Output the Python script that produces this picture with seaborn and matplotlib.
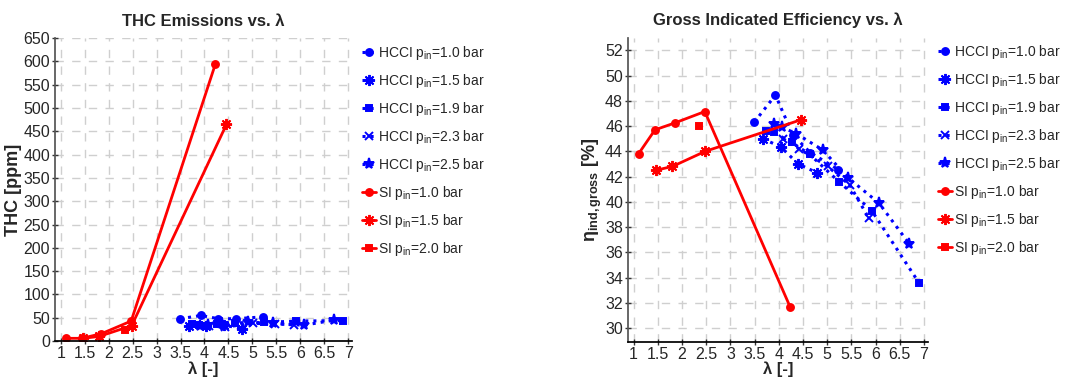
import matplotlib
matplotlib.use('Agg')
import matplotlib.pyplot as plt
import seaborn as sns
import pandas as pd
import numpy as np
from matplotlib.ticker import MultipleLocator, FormatStrFormatter

# HCCI data (lambda, THC [ppm], gross indicated efficiency [%])
hcci_10_lam = [3.49, 3.93, 4.29, 4.65, 5.23]
hcci_10_thc = [48, 55, 48, 48, 52]
hcci_10_eta = [46.3, 48.45, 45.3, 43.9, 42.55]

hcci_15_lam = [3.67, 4.04, 4.40, 4.79]
hcci_15_thc = [33, 32, 34, 27]
hcci_15_eta = [45.0, 44.35, 43.0, 42.3]

hcci_19_lam = [3.74, 3.89, 4.27, 4.64, 5.24, 5.92, 6.90]
hcci_19_thc = [36, 35, 37, 38, 40, 43, 44]
hcci_19_eta = [45.6, 45.5, 44.7, 43.75, 41.6, 39.3, 33.56]

hcci_23_lam = [4.09, 4.42, 5.01, 5.47, 5.86]
hcci_23_thc = [33, 30, 38, 37, 35]
hcci_23_eta = [45.0, 44.2, 42.8, 41.3, 38.7]

hcci_25_lam = [3.90, 4.07, 4.36, 4.91, 5.43, 6.07, 6.70]
hcci_25_thc = [32, 35, 37, 40, 38, 34, 45]
hcci_25_eta = [46.2, 45.9, 45.4, 44.1, 41.9, 39.9, 36.65]

# SI data
si_10_lam = [1.10, 1.44, 1.85, 2.47, 4.23]
si_10_thc = [6, 6, 16, 43, 595]
si_10_eta = [43.8, 45.7, 46.25, 47.15, 31.7]

si_15_lam = [1.46, 1.80, 2.48, 4.46]
si_15_thc = [6, 10, 33, 465]
si_15_eta = [42.5, 42.8, 44.0, 46.5]

si_20_lam = [2.35]
si_20_thc = [23]
si_20_eta = [46.0]

series = [
    ('HCCI p$_{\\mathrm{in}}$=1.0 bar', hcci_10_lam, hcci_10_thc, hcci_10_eta, 'blue', ':', 'o', 5),
    ('HCCI p$_{\\mathrm{in}}$=1.5 bar', hcci_15_lam, hcci_15_thc, hcci_15_eta, 'blue', ':', (8, 2, 0), 8),
    ('HCCI p$_{\\mathrm{in}}$=1.9 bar', hcci_19_lam, hcci_19_thc, hcci_19_eta, 'blue', ':', 's', 5),
    ('HCCI p$_{\\mathrm{in}}$=2.3 bar', hcci_23_lam, hcci_23_thc, hcci_23_eta, 'blue', ':', 'x', 6),
    ('HCCI p$_{\\mathrm{in}}$=2.5 bar', hcci_25_lam, hcci_25_thc, hcci_25_eta, 'blue', ':', '*', 8),
    ('SI p$_{\\mathrm{in}}$=1.0 bar', si_10_lam, si_10_thc, si_10_eta, 'red', '-', 'o', 5),
    ('SI p$_{\\mathrm{in}}$=1.5 bar', si_15_lam, si_15_thc, si_15_eta, 'red', '-', (8, 2, 0), 8),
    ('SI p$_{\\mathrm{in}}$=2.0 bar', si_20_lam, si_20_thc, si_20_eta, 'red', '-', 's', 5),
]

sns.set_theme(style='white')
plt.rcParams['font.family'] = ['Liberation Sans', 'DejaVu Sans']
plt.rcParams['mathtext.fontset'] = 'custom'
plt.rcParams['mathtext.rm'] = 'Liberation Sans'
plt.rcParams['mathtext.it'] = 'Liberation Sans:italic'
plt.rcParams['mathtext.bf'] = 'Liberation Sans:bold'

fig = plt.figure(figsize=(10.66, 3.85), dpi=100)
ax1 = fig.add_axes([0.0516, 0.114, 0.2786, 0.787])
ax2 = fig.add_axes([0.589, 0.112, 0.2814, 0.790])

for name, lam, thc, eta, col, ls, mk, ms in series:
    lw = 2 if ls == '-' else 2.2
    sns.lineplot(x=lam, y=thc, ax=ax1, color=col, linestyle=ls, marker=mk,
                 markersize=ms, markeredgecolor=col, markeredgewidth=1.4,
                 linewidth=lw, sort=False, estimator=None, label=name)
    sns.lineplot(x=lam, y=eta, ax=ax2, color=col, linestyle=ls, marker=mk,
                 markersize=ms, markeredgecolor=col, markeredgewidth=1.4,
                 linewidth=lw, sort=False, estimator=None, label=name)

def style_axes(ax, ylim, ystep, title, ylabel):
    ax.set_xlim(0.88, 7.08)
    ax.set_ylim(*ylim)
    ax.xaxis.set_major_locator(MultipleLocator(0.5))
    ax.yaxis.set_major_locator(MultipleLocator(ystep))
    ax.xaxis.set_major_formatter(FormatStrFormatter('%g'))
    ax.yaxis.set_major_formatter(FormatStrFormatter('%g'))
    ax.grid(True, color='#cfcfcf', linestyle=(0, (6, 6)), linewidth=1)
    for s in ['top', 'right']:
        ax.spines[s].set_visible(False)
    ax.spines['left'].set_color('#555555')
    ax.spines['bottom'].set_color('black')
    ax.tick_params(axis='both', labelsize=11.5, direction='inout', length=5,
                   width=1, color='#333333', pad=1, left=True, bottom=True)
    ax.set_title(title, fontsize=12, fontweight='bold', pad=9)
    ax.set_xlabel('λ [-]', fontsize=12, fontweight='bold', labelpad=0)
    ax.set_ylabel(ylabel, fontsize=13, fontweight='bold', labelpad=1)
    ax.legend(loc='upper left', bbox_to_anchor=(1.015, 1.0), frameon=False,
              fontsize=10, handlelength=1.0, handletextpad=0.15,
              labelspacing=0.72, borderaxespad=0.0)

style_axes(ax1, (0, 650), 50, 'THC Emissions vs. λ', 'THC [ppm]')
style_axes(ax2, (28.9, 53), 2, 'Gross Indicated Efficiency vs. λ',
           '$\\mathbf{\\eta_{ind,gross}}$ [%]')

fig.savefig('out.png', dpi=100)
